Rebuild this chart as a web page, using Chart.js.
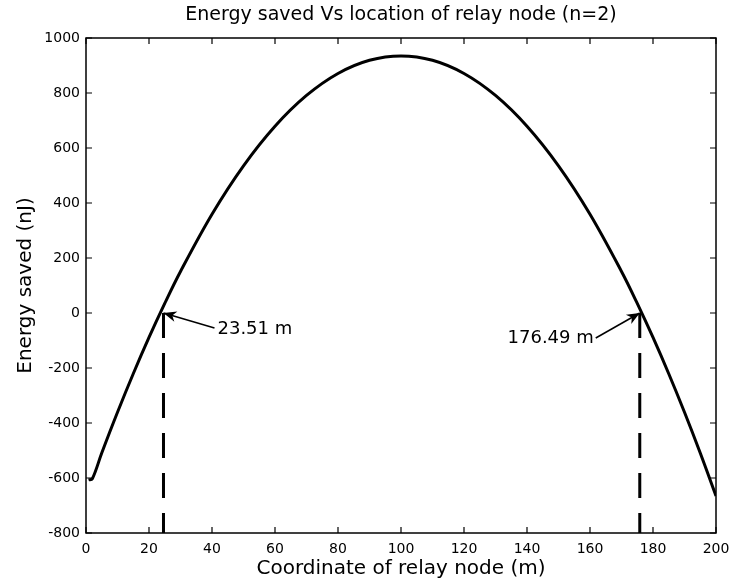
<!DOCTYPE html>
<html><head><meta charset="utf-8">
<script src="https://cdn.jsdelivr.net/npm/chart.js@4.4.0/dist/chart.umd.min.js"></script>
<style>html,body{margin:0;padding:0;background:#fff;}#wrap{width:731px;height:582px;}</style>
</head><body><div id="wrap"><canvas id="c" width="731" height="582"></canvas></div>
<script>
// ---- data ----
const relayX = [0.8, 2, 5, 10, 15, 20, 25, 30, 40, 50, 60, 70, 80, 90, 100, 110, 120, 130, 140, 150, 160, 170, 175, 180, 185, 190, 195, 200];
const energySaved = [-607, -603, -509, -361, -221, -89, 35, 151, 359, 535, 679, 791, 871, 919, 935, 919, 871, 791, 679, 535, 359, 151, 35, -89, -221, -361, -509, -665];
const crossingX = [24.6, 175.8];
const crossingLabels = ['23.51 m', '176.49 m'];
const xTicks = [0, 20, 40, 60, 80, 100, 120, 140, 160, 180, 200];
const yTicks = [-800, -600, -400, -200, 0, 200, 400, 600, 800, 1000];
const chartTitle = 'Energy saved Vs location of relay node (n=2)';
const xTitle = 'Coordinate of relay node (m)';
const yTitle = 'Energy saved (nJ)';

const FONT = "'DejaVu Sans', 'Liberation Sans', Arial, sans-serif";

const curve = relayX.map((x, i) => ({x, y: energySaved[i]}));
const dashSets = crossingX.map(x => ({
  data: [{x, y: 0}, {x, y: yTicks[0]}],
  showLine: true, borderColor: '#000', borderWidth: 3, borderDash: [25, 15],
  pointRadius: 0, fill: false
}));

const framePlugin = {
  id: 'frame',
  afterDraw(chart) {
    const {ctx, chartArea: a, scales: {x, y}} = chart;
    ctx.save();
    ctx.strokeStyle = '#000';
    ctx.lineWidth = 1.5;
    ctx.strokeRect(a.left, a.top, a.right - a.left, a.bottom - a.top);
    const tl = 6;
    ctx.lineWidth = 1.2;
    ctx.beginPath();
    xTicks.forEach(v => {
      const px = x.getPixelForValue(v);
      ctx.moveTo(px, a.bottom); ctx.lineTo(px, a.bottom - tl);
      ctx.moveTo(px, a.top); ctx.lineTo(px, a.top + tl);
    });
    yTicks.forEach(v => {
      const py = y.getPixelForValue(v);
      ctx.moveTo(a.left, py); ctx.lineTo(a.left + tl, py);
      ctx.moveTo(a.right, py); ctx.lineTo(a.right - tl, py);
    });
    ctx.stroke();
    // title
    ctx.fillStyle = '#000';
    ctx.font = '19px ' + FONT;
    ctx.textAlign = 'center';
    ctx.textBaseline = 'middle';
    ctx.fillText(chartTitle, (a.left + a.right) / 2, 15);
    // annotations
    ctx.font = '18px ' + FONT;
    crossingX.forEach((cx, i) => {
      const tx = x.getPixelForValue(cx), ty = y.getPixelForValue(0);
      let sx, sy, lx, ly, align;
      if (i === 0) { sx = tx + 51; sy = ty + 15; lx = tx + 54; ly = ty + 16; align = 'left'; }
      else { sx = tx - 44; sy = ty + 25; lx = tx - 46; ly = ty + 25; align = 'right'; }
      ctx.lineWidth = 1.5;
      ctx.beginPath(); ctx.moveTo(sx, sy); ctx.lineTo(tx, ty); ctx.stroke();
      const ang = Math.atan2(ty - sy, tx - sx);
      const L = 14, W = 0.4;
      ctx.beginPath();
      ctx.moveTo(tx, ty);
      ctx.lineTo(tx - L * Math.cos(ang - W), ty - L * Math.sin(ang - W));
      ctx.lineTo(tx - L * 0.65 * Math.cos(ang), ty - L * 0.65 * Math.sin(ang));
      ctx.lineTo(tx - L * Math.cos(ang + W), ty - L * Math.sin(ang + W));
      ctx.closePath(); ctx.fill();
      ctx.textAlign = align;
      ctx.fillText(crossingLabels[i], lx, ly);
    });
    ctx.restore();
  }
};

new Chart(document.getElementById('c'), {
  type: 'scatter',
  data: {
    datasets: [{
      data: curve, showLine: true, borderColor: '#000', borderWidth: 3,
      pointRadius: 0, tension: 0.35, fill: false
    }, ...dashSets]
  },
  options: {
    responsive: false, animation: false,
    layout: {padding: {top: 38, right: 15, left: 0, bottom: 0}},
    plugins: {legend: {display: false}, title: {display: false}, tooltip: {enabled: false}},
    scales: {
      x: {
        type: 'linear', min: 0, max: 200,
        afterBuildTicks: s => { s.ticks = xTicks.map(v => ({value: v})); },
        ticks: {color: '#000', font: {family: FONT, size: 14}, padding: 8, maxRotation: 0, autoSkip: false,
                callback: v => String(v)},
        grid: {display: false, drawTicks: false}, border: {display: false},
        title: {display: true, text: xTitle, color: '#000', font: {family: FONT, size: 20}, padding: {top: 0, bottom: 1}},
        afterFit: s => { s.height = 49; s.paddingLeft = 0; s.paddingRight = 0; }
      },
      y: {
        type: 'linear', min: -800, max: 1000,
        afterBuildTicks: s => { s.ticks = yTicks.map(v => ({value: v})); },
        ticks: {color: '#000', font: {family: FONT, size: 14}, padding: 6, autoSkip: false,
                callback: v => String(v)},
        grid: {display: false, drawTicks: false}, border: {display: false},
        title: {display: true, text: yTitle, color: '#000', font: {family: FONT, size: 20}, padding: {top: 14, bottom: 0}},
        afterFit: s => { s.width = 86; s.paddingTop = 0; s.paddingBottom = 0; }
      }
    }
  },
  plugins: [framePlugin]
});
</script></body></html>
